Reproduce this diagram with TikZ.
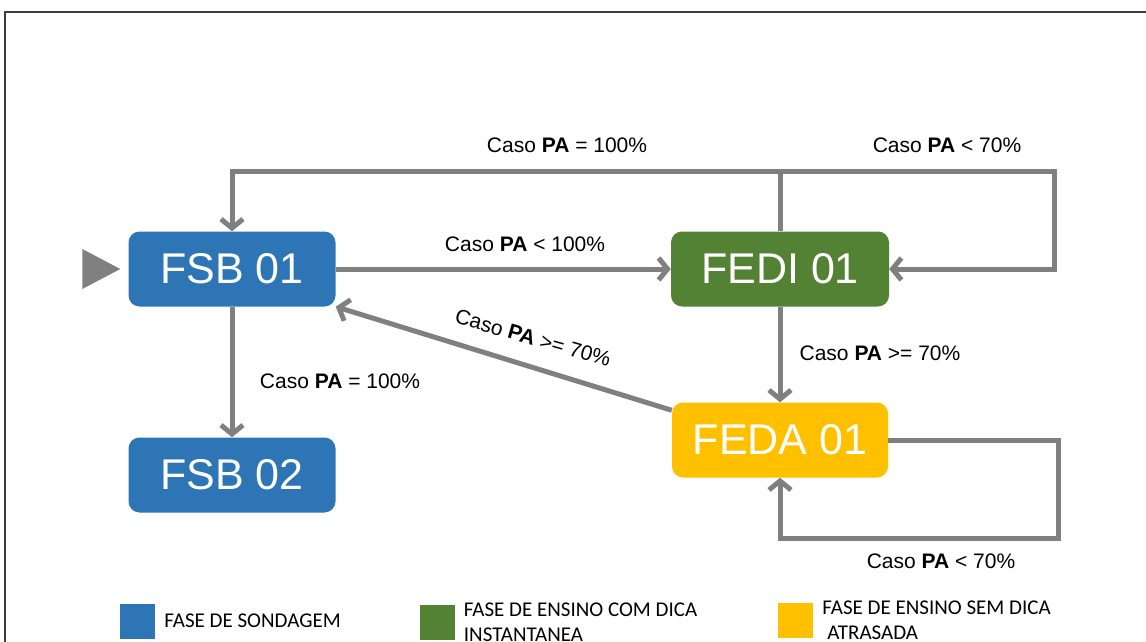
\documentclass[tikz,border=0pt]{standalone}
\usepackage{fontspec}
\setmainfont{Liberation Sans}
\newfontfamily\legendfont{Carlito}
\usepackage{tikz}
\definecolor{bb}{RGB}{46, 117, 182}
\definecolor{gg}{RGB}{84, 130, 53}
\definecolor{yy}{RGB}{255, 192, 0}
\definecolor{ll}{RGB}{128, 128, 128}
\definecolor{ff}{RGB}{60, 60, 60}
\usetikzlibrary{arrows.meta}
\def\height{75pt}
\tikzset{conn/.style={draw=ll,line width=5pt,-{Straight Barb[length=9pt,width=22pt]}},
	cond/.style={font=\fontsize{21}{21}\selectfont,inner sep=1pt},
	legend/.style={font=\legendfont\fontsize{21}{25}\selectfont,align=left,inner sep=0pt}}
\newcommand{\phasenode}[6]{\node[minimum height=\height,minimum width=#4,rounded corners=11pt,fill=#5,text=white,font=\fontsize{43}{43}\selectfont,inner sep=0pt] (#3) at (#1,#2) {#6};}
\newcommand{\legendkey}[5]{\node[fill=#4,minimum size=35pt,inner sep=0pt] (#3) at (#1,#2) {};
	\node[legend,anchor=west] at ([xshift=9pt]#3.east) {#5}; }

\begin{document}
\begin{tikzpicture}[x=1pt,y=-1pt]
\useasboundingbox (0,0) rectangle (1146,642);
\draw[ff,line width=2pt] (1146,12) -- (4.5,12) -- (4.5,642);

\phasenode{232}{269}{fsbA}{207pt}{bb}{FSB 01}
\phasenode{232}{475}{fsbB}{207pt}{bb}{FSB 02}
\phasenode{780}{269}{fedi}{218pt}{gg}{FEDI 01}
\phasenode{780}{440}{feda}{216pt}{yy}{FEDA 01}

\coordinate (in) at ([xshift=-8pt]fsbA.west);
\fill[ll] (in) -- ++(-38,-20) -- ++(0,40) -- cycle;

\coordinate (top) at (780,171);
\coordinate (rt) at (1054,171);
\coordinate (br) at (1058,538);

\draw[conn] (fsbA) -- (fedi);
\draw[conn] (fedi.north) -- (top) -| (fsbA.north);
\draw[conn] (top) -- (rt) |- (fedi.east);
\draw[conn] (fedi) -- (feda);
\draw[conn] ([yshift=-8pt]feda.north west) -- (fsbA.south east);
\draw[conn] (fsbA) -- (fsbB);
\draw[conn] (feda.east) -- (feda.east -| br) -- (br) -| (feda.south);

\node[cond] (c1) at (525,244) {Caso \textbf{PA} < 100\%};
\node[cond] (c2) at (567,145) {Caso \textbf{PA} = 100\%};
\node[cond] (c3) at (947,145) {Caso \textbf{PA} < 70\%};
\node[cond] (c4) at (880,353) {Caso \textbf{PA} >= 70\%};
\node[cond,rotate=-16] (c5) at (533,338) {Caso \textbf{PA} >= 70\%};
\node[cond] (c6) at (340,381) {Caso \textbf{PA} = 100\%};
\node[cond] (c7) at (941,561) {Caso \textbf{PA} < 70\%};

\legendkey{137.5}{621}{kb}{bb}{FASE DE SONDAGEM}
\legendkey{437}{622}{kg}{gg}{FASE DE ENSINO COM DICA\\INSTANTANEA}
\legendkey{795.5}{620}{ky}{yy}{FASE DE ENSINO SEM DICA\\\hspace*{5pt}ATRASADA}
\end{tikzpicture}
\end{document}
